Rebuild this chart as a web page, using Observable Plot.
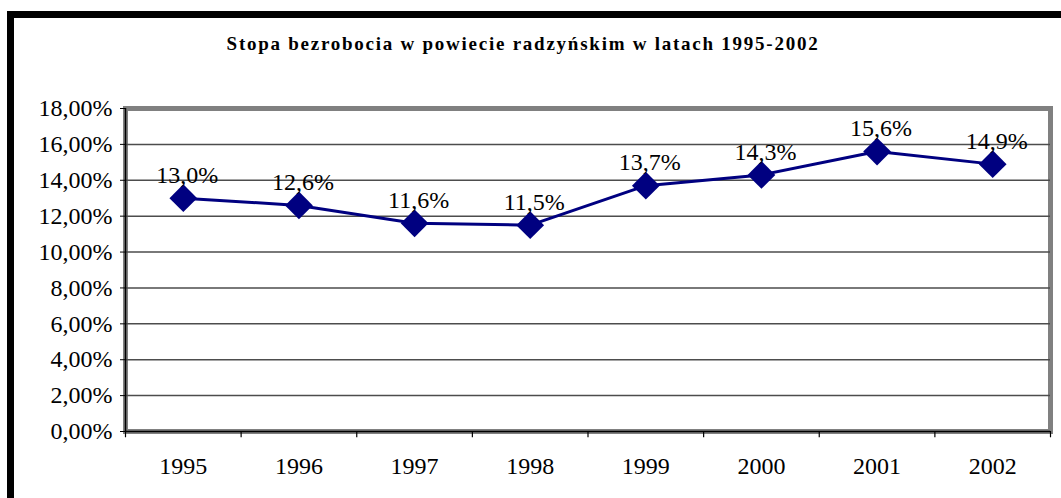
<!DOCTYPE html>
<html>
<head>
<meta charset="utf-8">
<script src="https://cdn.jsdelivr.net/npm/d3@7"></script>
<script src="https://cdn.jsdelivr.net/npm/@observablehq/plot@0.6"></script>
<style>
  html, body { margin: 0; padding: 0; background: #fff; }
  #wrap { position: relative; width: 1061px; height: 498px; overflow: hidden; background: #fff; }
  #borderTop { position: absolute; left: 7px; top: 11px; width: 1054px; height: 7px; background: #000; }
  #borderLeft { position: absolute; left: 7px; top: 11px; width: 7px; height: 487px; background: #000; }
  #title { position: absolute; left: 0; width: 1046px; top: 34px; text-align: center;
           font-family: "Liberation Serif", "Times New Roman", Times, "DejaVu Serif", serif; font-weight: bold; font-size: 19px; line-height: 19px;
           letter-spacing: 1.75px; color: #000; }
  #chart { position: absolute; left: 0; top: 70px; }
  #chart svg, #chart svg text { font-family: "Liberation Serif", "Times New Roman", Times, "DejaVu Serif", serif !important; }
</style>
</head>
<body>
<div id="wrap">
  <div id="borderTop"></div>
  <div id="borderLeft"></div>
  <div id="title"></div>
  <div id="chart"></div>
</div>
<script>
const titleText = "Stopa bezrobocia w powiecie radzyńskim w latach 1995-2002";
const years = [1995, 1996, 1997, 1998, 1999, 2000, 2001, 2002];
const rates = [13.0, 12.6, 11.6, 11.5, 13.7, 14.3, 15.6, 14.9];
const yTicks = [0, 2, 4, 6, 8, 10, 12, 14, 16, 18];

document.getElementById("title").textContent = titleText;

const data = years.map((year, i) => ({year, rate: rates[i]}));
const boundaries = years.map(y => y - 0.5).concat([years[years.length - 1] + 0.5]);
const fmtY = d => d.toFixed(2).replace(".", ",") + "%";
const fmtLabel = d => d.rate.toFixed(1).replace(".", ",") + "%";
const serif = "'Liberation Serif', 'Times New Roman', 'DejaVu Serif', serif";

const chart = Plot.plot({
  width: 1061,
  height: 428,
  marginTop: 38,
  marginBottom: 67,
  marginLeft: 125,
  marginRight: 11,
  style: {fontFamily: serif, fontSize: "24px", color: "#000", background: "transparent"},
  x: {type: "linear", domain: [boundaries[0], boundaries[boundaries.length - 1]], label: null},
  y: {domain: [0, 18], label: null},
  marks: [
    Plot.frame({stroke: "#808080", strokeWidth: 5}),
    Plot.ruleY(yTicks.filter(d => d > 0 && d < 18), {stroke: "#4d4d4d", strokeWidth: 1.5}),
    Plot.axisX(years, {tickSize: 0, tickPadding: 25, tickFormat: d => String(d), fontSize: 24, fontFamily: serif, label: null}),
    Plot.axisY(yTicks, {tickSize: 5, tickPadding: 8, tickFormat: fmtY, fontSize: 24, fontFamily: serif, stroke: "#000", label: null}),
    Plot.ruleX([boundaries[0]], {stroke: "#000", strokeWidth: 1.5}),
    Plot.ruleY([0], {stroke: "#000", strokeWidth: 1.5}),
    Plot.ruleX(boundaries, {y1: 0, y2: -0.35, stroke: "#000", strokeWidth: 1.2}),
    Plot.line(data, {x: "year", y: "rate", stroke: "#000080", strokeWidth: 3}),
    Plot.dot(data, {x: "year", y: "rate", symbol: "diamond2", r: 12.5, fill: "#000080", stroke: "none"}),
    Plot.text(data, {x: "year", y: "rate", text: fmtLabel, dx: 4, dy: -23, fontSize: 24, fontFamily: serif, fill: "#000"})
  ]
});
document.getElementById("chart").appendChild(chart);
</script>
</body>
</html>
